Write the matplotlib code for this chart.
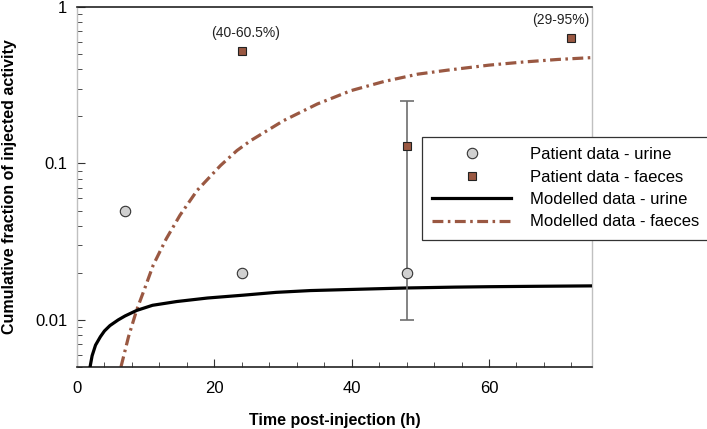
import matplotlib.pyplot as plt
from matplotlib.ticker import MultipleLocator, LogLocator, FixedFormatter, FixedLocator

plt.rcParams['font.family'] = ['Liberation Sans', 'DejaVu Sans']

# patient measurements
urine_t = [7, 24, 48]
urine_val = [0.05, 0.02, 0.02]
faeces_t = [24, 48, 72]
faeces_val = [0.52, 0.13, 0.63]
faeces_notes = ['(40-60.5%)', '', '(29-95%)']
# range bar on the 48 h faeces sample
bar_t = [48]
bar_val = [0.13]
bar_lo = [0.01]
bar_hi = [0.25]

# modelled curves
model_urine_t = [1.9, 2.2, 2.7, 3.4, 4.0, 4.8, 6, 7, 8.7, 11, 14.5, 19, 24.3, 29, 34,
                 41, 48, 55, 60, 67, 75]
model_urine = [0.005, 0.0059, 0.0069, 0.0078, 0.0085, 0.0092, 0.0100, 0.0106, 0.0115,
               0.0124, 0.0131, 0.0138, 0.0144, 0.0150, 0.0154, 0.0157, 0.0160, 0.0162,
               0.0163, 0.0164, 0.0165]
model_faeces_t = [6.4, 7.5, 8.7, 10, 11.1, 13, 15, 17.5, 20.9, 23.3, 25.3, 30.1, 35,
                  39.9, 44.7, 49.6, 54, 60, 65, 70, 75]
model_faeces = [0.005, 0.0078, 0.0116, 0.0165, 0.0224, 0.033, 0.0467, 0.0673, 0.097,
                0.121, 0.140, 0.188, 0.240, 0.292, 0.334, 0.372, 0.395, 0.425, 0.445,
                0.462, 0.475]

brown = '#9a5842'

fig = plt.figure(figsize=(7.07, 4.29), dpi=100)
ax = fig.add_axes([77 / 707, 1 - 367 / 429, 515 / 707, 360 / 429])

l_fm, = ax.plot(model_faeces_t, model_faeces, color=brown, lw=2.3,
                dashes=(3.4, 1.4, 0.8, 1.4), label='Modelled data - faeces', zorder=2)
l_um, = ax.plot(model_urine_t, model_urine, color='black', lw=2.3,
                label='Modelled data - urine', zorder=3)
err_lo = [v - lo for v, lo in zip(bar_val, bar_lo)]
err_hi = [hi - v for v, hi in zip(bar_val, bar_hi)]
ax.errorbar(bar_t, bar_val, yerr=[err_lo, err_hi], fmt='none',
            ecolor='#6e6e6e', elinewidth=1.2, capsize=5, capthick=1.2, zorder=4)
l_u, = ax.plot(urine_t, urine_val, 'o', ms=7.5, mfc='#d0d0d0', mec='#333333', mew=0.8,
               label='Patient data - urine', zorder=5)
l_f, = ax.plot(faeces_t, faeces_val, 's', ms=6, mfc=brown, mec='#222222', mew=0.8,
               label='Patient data - faeces', zorder=5)

for t, v, note in zip(faeces_t, faeces_val, faeces_notes):
    if note:
        ax.annotate(note, (t, v), xytext=(-8 if t > 70 else 3, 8), textcoords='offset points',
                    ha='center', va='bottom', fontsize=10, color='#222222')

ax.set_yscale('log')
ax.set_xlim(0, 75)
ax.set_ylim(0.005, 1)
ax.xaxis.set_major_locator(MultipleLocator(20))
ax.xaxis.set_minor_locator(MultipleLocator(4))
ax.yaxis.set_major_locator(FixedLocator([0.01, 0.1, 1]))
ax.yaxis.set_major_formatter(FixedFormatter(['0.01', '0.1', '1']))
ax.yaxis.set_minor_locator(LogLocator(base=10, subs=range(2, 10)))
ax.yaxis.set_minor_formatter(FixedFormatter([]))

ax.tick_params(which='both', direction='in', labelsize=12, color='#333333')
ax.tick_params(which='major', length=6)
ax.tick_params(which='minor', length=3.5)
ax.tick_params(axis='y', which='both', right=False, pad=7)
ax.tick_params(axis='x', which='both', top=False, pad=10)

for side in ['top', 'bottom']:
    ax.spines[side].set_color('#222222')
    ax.spines[side].set_linewidth(1.2)
for side in ['left', 'right']:
    ax.spines[side].set_color('#c0c0c0')
    ax.spines[side].set_linewidth(1.0)

ax.set_xlabel('Time post-injection (h)', fontsize=11.5, fontweight='bold', labelpad=12)
ax.set_ylabel('Cumulative fraction of injected activity', fontsize=11.5,
              fontweight='bold', labelpad=13)

leg = fig.legend(handles=[l_u, l_f, l_um, l_fm], loc='upper left',
                 bbox_to_anchor=(422 / 707, 1 - 137 / 429), borderaxespad=0, fontsize=12,
                 fancybox=False, framealpha=1, edgecolor='#333333',
                 handlelength=4.75, borderpad=0.6, labelspacing=0.45, handletextpad=1.1)
leg.get_frame().set_linewidth(0.9)

fig.savefig('out.png', dpi=100)
